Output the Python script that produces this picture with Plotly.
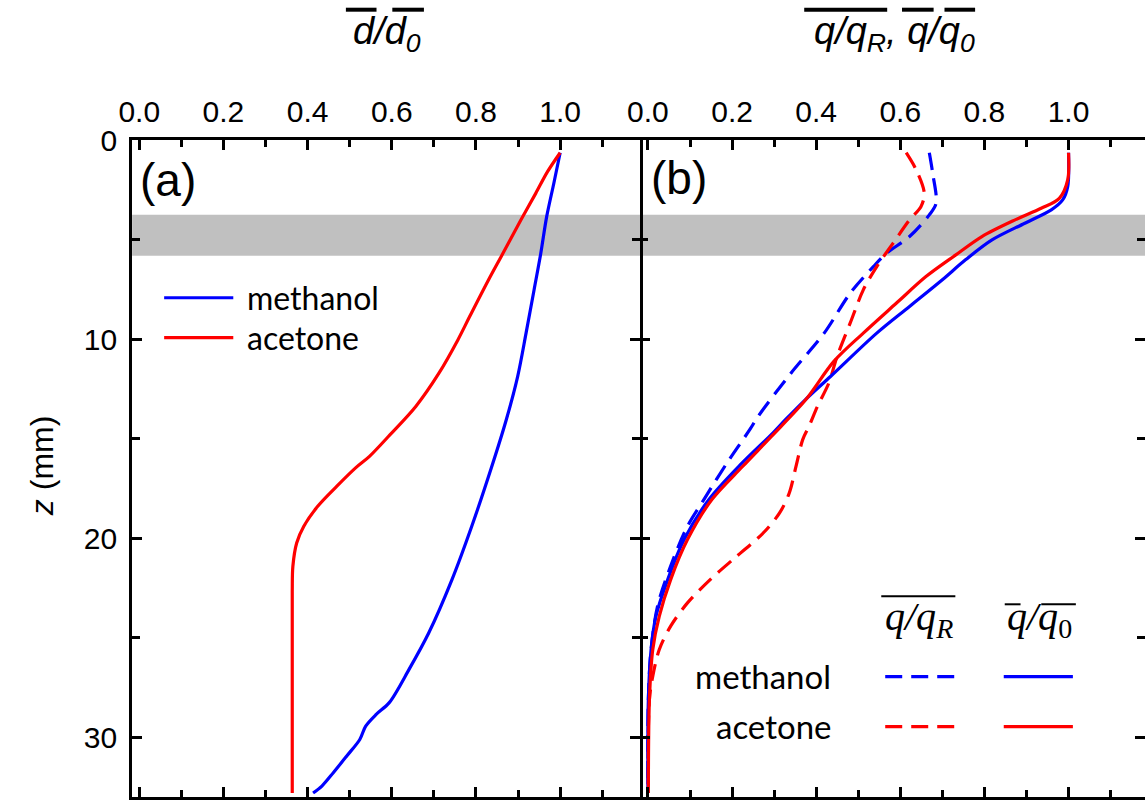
import plotly.graph_objects as go

# ---------------- data ----------------
# panel (a): mean diameter ratio vs depth z (mm)
Z_A_METH = [0.64, 2.17, 3.85, 5.69, 7.53, 9.70, 11.88, 14.05, 16.5, 19.4, 22.08, 24.75, 26.59, 28.26, 28.85, 29.44, 30.11, 30.94, 31.78, 32.45, 32.8]
D_A_METH = [1.0, 0.985, 0.968, 0.954, 0.938, 0.919, 0.899, 0.872, 0.836, 0.790, 0.743, 0.688, 0.641, 0.594, 0.563, 0.538, 0.524, 0.493, 0.461, 0.434, 0.413]
Z_A_ACET = [0.64, 1.59, 2.68, 4.01, 5.85, 7.02, 8.87, 10.04, 11.71, 13.38, 14.8, 15.89, 16.47, 17.4, 18.4, 19.4, 20.24, 21.41, 22.7, 32.8]
D_A_ACET = [1.0, 0.970, 0.942, 0.907, 0.860, 0.830, 0.785, 0.757, 0.712, 0.657, 0.596, 0.547, 0.514, 0.469, 0.424, 0.391, 0.374, 0.365, 0.3635, 0.3635]

# panel (b): q/q0 (solid) and q/qR (dashed)
Z_B_METH_Q0 = [0.64, 2.34, 3.01, 3.51, 4.18, 5.02, 6.02, 7.02, 8.36, 9.70, 11.88, 13.05, 14.05, 14.72, 16.22, 18.06, 20.07, 22.08, 23.92, 25.59, 28.1, 32.8]
Q_B_METH_Q0 = [1.0, 0.998, 0.986, 0.959, 0.896, 0.818, 0.755, 0.700, 0.622, 0.544, 0.434, 0.374, 0.327, 0.297, 0.224, 0.145, 0.086, 0.047, 0.019, 0.0075, 0.001, 0.0]
Z_B_ACET_Q0 = [0.64, 2.0, 2.93, 3.43, 4.01, 4.85, 5.77, 6.86, 8.19, 9.70, 11.12, 13.05, 14.9, 16.4, 18.06, 20.07, 22.08, 23.92, 25.59, 28.1, 32.8]
Q_B_ACET_Q0 = [1.0, 0.998, 0.978, 0.935, 0.873, 0.794, 0.732, 0.661, 0.591, 0.512, 0.442, 0.375, 0.293, 0.225, 0.152, 0.094, 0.054, 0.027, 0.0115, 0.0035, 0.001]
Z_B_METH_QR = [0.64, 1.67, 3.18, 3.76, 4.85, 5.69, 6.36, 7.69, 9.70, 11.71, 13.88, 14.55, 16.22, 18.06, 19.4, 21.4, 23.4, 25.6, 28.1, 32.8]
Q_B_METH_QR = [0.669, 0.677, 0.685, 0.669, 0.622, 0.567, 0.536, 0.481, 0.419, 0.340, 0.262, 0.242, 0.188, 0.133, 0.094, 0.054, 0.023, 0.0075, 0.001, 0.0]
Z_B_ACET_QR = [0.64, 1.51, 2.68, 3.35, 4.01, 5.18, 6.36, 7.53, 9.19, 10.86, 12.21, 13.38, 14.38, 15.05, 16.39, 17.73, 18.73, 19.74, 20.91, 22.08, 23.25, 24.42, 25.59, 26.93, 28.1, 32.8]
Q_B_ACET_QR = [0.614, 0.638, 0.657, 0.649, 0.622, 0.583, 0.544, 0.512, 0.481, 0.450, 0.430, 0.403, 0.383, 0.368, 0.352, 0.336, 0.313, 0.274, 0.211, 0.148, 0.094, 0.054, 0.027, 0.0115, 0.0035, 0.0]

X_TICKS = [0.0, 0.2, 0.4, 0.6, 0.8, 1.0]
X_TICKTEXT = ["0.0", "0.2", "0.4", "0.6", "0.8", "1.0"]
Z_TICKS = [0, 10, 20, 30]
Z_TICKTEXT = ["0", "10", "20", "30"]
BAND_Z = [3.76, 5.82]
SERIES_NAMES = ["methanol", "acetone"]

# ---------------- layout helpers ----------------
W, H = 1145, 800
ML, MR, MT, MB = 0, 0, 140, 2
PW, PH = W - ML - MR, H - MT - MB


def px(x):
    return (x - ML) / PW


def py(y):
    return (H - MB - y) / PH


BLUE = "#0000ff"
RED = "#ff0000"
DASH = "17px,9px"
LW = 3.2
SANS = "Liberation Sans, Arial, sans-serif"
LEG = "Lato, Open Sans, sans-serif"
SERIF = "Liberation Serif, Times New Roman, serif"

fig = go.Figure()


def line(x, y, color, xa, ya, dash="solid"):
    fig.add_trace(go.Scatter(
        x=x, y=y, mode="lines", xaxis=xa, yaxis=ya, showlegend=False,
        line=dict(color=color, width=LW, dash=dash, shape="spline", smoothing=0.9),
        hoverinfo="skip"))


line(D_A_METH, Z_A_METH, BLUE, "x", "y")
line(D_A_ACET, Z_A_ACET, RED, "x", "y")
line(Q_B_METH_QR, Z_B_METH_QR, BLUE, "x2", "y2", DASH)
line(Q_B_ACET_QR, Z_B_ACET_QR, RED, "x2", "y2", DASH)
line(Q_B_METH_Q0, Z_B_METH_Q0, BLUE, "x2", "y2")
line(Q_B_ACET_Q0, Z_B_ACET_Q0, RED, "x2", "y2")

tickfont = dict(family=SANS, size=30, color="black")

xcommon = dict(
    side="top", tickvals=X_TICKS, ticktext=X_TICKTEXT, ticks="inside",
    ticklen=10, tickwidth=2.5, tickcolor="black",
    minor=dict(dtick=0.1, tick0=0, ticks="inside", ticklen=7, tickwidth=2.5, tickcolor="black"),
    showline=True, linewidth=3, linecolor="black", mirror="ticks",
    showgrid=False, zeroline=False, tickfont=tickfont, ticklabelstandoff=3,
    fixedrange=True)

ycommon = dict(
    range=[33, 0], tickvals=Z_TICKS, ticktext=Z_TICKTEXT, ticks="inside",
    ticklen=10, tickwidth=2.5, tickcolor="black",
    minor=dict(dtick=5, tick0=0, ticks="inside", ticklen=8, tickwidth=2.5, tickcolor="black"),
    showgrid=False, zeroline=False, tickfont=tickfont, fixedrange=True)

A_L, A_R, B_R = 119.6, 634.0, 1145.0
fig.update_layout(
    width=W, height=H,
    margin=dict(l=ML, r=MR, t=MT, b=MB),
    paper_bgcolor="white", plot_bgcolor="rgba(0,0,0,0)",
    showlegend=False,
    xaxis=dict(domain=[px(A_L), px(A_R)], range=[-0.0169, 1.1903], anchor="y", **xcommon),
    xaxis2=dict(domain=[px(A_R), 1.0], range=[-0.0183, 1.1818], anchor="y2", **xcommon),
    yaxis=dict(domain=[0, 1], anchor="x", showline=True, linewidth=3, linecolor="black",
               mirror="ticks", ticklabelstandoff=6, **ycommon),
    yaxis2=dict(domain=[0, 1], anchor="x2", showline=False,
                showticklabels=False, **ycommon),
    yaxis3=dict(overlaying="y2", anchor="x2", side="right", showline=False,
                showticklabels=False, **ycommon),
)
# dummy trace so yaxis3 is drawn
fig.add_trace(go.Scatter(x=[None], y=[None], xaxis="x2", yaxis="y3", showlegend=False))

shapes = []
# grey band across both panels
shapes.append(dict(type="rect", xref="paper", yref="y", x0=px(A_L), x1=1.0,
                   y0=BAND_Z[0], y1=BAND_Z[1], fillcolor="#c0c0c0", line=dict(width=0),
                   layer="below"))


def hline(x0, x1, y, color, dash="solid", width=LW):
    shapes.append(dict(type="line", xref="paper", yref="paper", x0=px(x0), x1=px(x1),
                       y0=py(y), y1=py(y), line=dict(color=color, width=width, dash=dash)))


# legend (a)
hline(152, 222, 298, BLUE)
hline(152, 222, 338, RED)
# legend (b)
hline(882, 952, 677.5, BLUE, DASH)
hline(882, 952, 727.5, RED, DASH)
hline(1002, 1072, 677.5, BLUE)
hline(1002, 1072, 727.5, RED)

# overline bars of the mean symbols
for x0, x1 in [(336, 367), (383, 415), (800, 884), (899, 931), (942, 973)]:
    hline(x0, x1, 9.5, "black", width=4)
hline(878, 953, 597, "black", width=2)
hline(1003, 1019, 605, "black", width=2)
hline(1040, 1075, 605, "black", width=2)

ann = []


def text(x, y, s, size, family, xanchor="center", angle=0):
    ann.append(dict(x=px(x), y=py(y), xref="paper", yref="paper", text=s, showarrow=False,
                    xanchor=xanchor, yanchor="middle", textangle=angle,
                    font=dict(family=family, size=size, color="black")))


text(378, 34, "<i>d/d<sub>0</sub></i>", 38, SANS)
text(891, 34, "<i>q/q<sub>R</sub>, q/q<sub>0</sub></i>", 38, SANS)
text(28, 466, "<i>z</i> (mm)", 32, SANS, angle=-90)
text(126, 180, "(a)", 46, SANS, xanchor="left")
text(643, 178, "(b)", 46, SANS, xanchor="left")
text(234, 298, SERIES_NAMES[0], 32, LEG, xanchor="left")
text(234, 338, SERIES_NAMES[1], 32, LEG, xanchor="left")
text(829, 677, SERIES_NAMES[0], 33, LEG, xanchor="right")
text(829, 727, SERIES_NAMES[1], 33, LEG, xanchor="right")
text(916, 620, "<i>q/q<sub>R</sub></i>", 40, SERIF)
text(1038, 620, "<i>q/q</i><sub>0</sub>", 40, SERIF)

fig.update_layout(shapes=shapes, annotations=ann)
fig.write_html("out.html")
